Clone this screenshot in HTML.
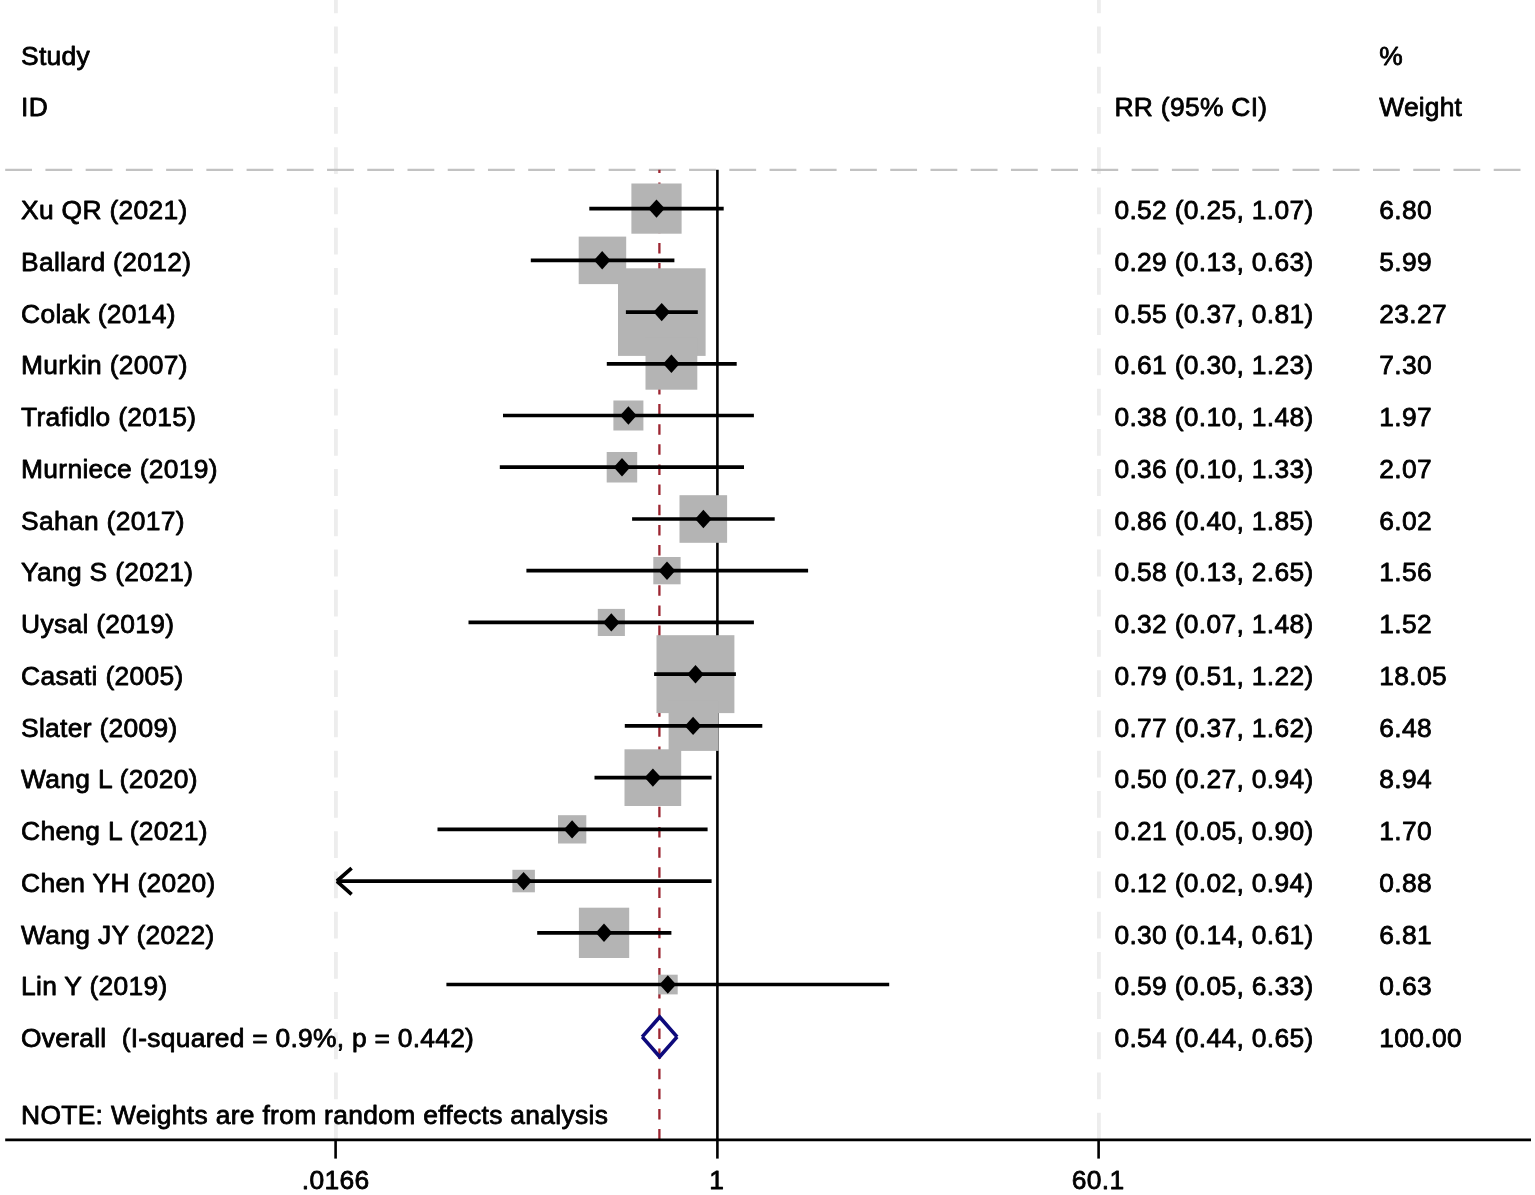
<!DOCTYPE html>
<html lang="en"><head><meta charset="utf-8"><title>Forest plot</title>
<style>html,body{margin:0;padding:0;background:#fff}body{width:1535px;height:1195px;overflow:hidden}svg{display:block}text{font-family:"Liberation Sans",Arial,Helvetica,sans-serif;font-size:26.4px;fill:#000;stroke:#000;stroke-width:0.8px;letter-spacing:0.32px;stroke-linejoin:round}</style></head><body>
<svg width="1535" height="1195" viewBox="0 0 1535 1195">
<rect width="1535" height="1195" fill="#fff"/>
<line x1="335.9" y1="1139.6" x2="335.9" y2="-40" stroke="#ededed" stroke-width="3.8" stroke-dasharray="26.8 13.43"/>
<line x1="1098.9" y1="1139.6" x2="1098.9" y2="-40" stroke="#ededed" stroke-width="3.8" stroke-dasharray="26.8 13.43"/>
<line x1="5.2" y1="169.9" x2="1531" y2="169.9" stroke="#c2c2c2" stroke-width="2.3" stroke-dasharray="26.8 13.43"/>
<line x1="659.4" y1="1139.6" x2="659.4" y2="169.7" stroke="#9c2530" stroke-width="2.3" stroke-dasharray="10.5 9.64"/>
<line x1="717.4" y1="169.7" x2="717.4" y2="1139.6" stroke="#000" stroke-width="2.6"/>
<rect x="631.4" y="183.5" width="50.2" height="50.2" fill="#b4b4b4"/>
<rect x="578.7" y="236.6" width="47.5" height="47.5" fill="#b4b4b4"/>
<rect x="618.0" y="268.3" width="87.6" height="87.6" fill="#b4b4b4"/>
<rect x="645.5" y="337.9" width="51.8" height="51.8" fill="#b4b4b4"/>
<rect x="613.4" y="400.5" width="30.0" height="30.0" fill="#b4b4b4"/>
<rect x="606.7" y="452.0" width="30.5" height="30.5" fill="#b4b4b4"/>
<rect x="679.5" y="495.2" width="47.6" height="47.6" fill="#b4b4b4"/>
<rect x="653.3" y="557.0" width="27.3" height="27.3" fill="#b4b4b4"/>
<rect x="597.8" y="608.9" width="27.1" height="27.1" fill="#b4b4b4"/>
<rect x="656.5" y="635.2" width="77.9" height="77.9" fill="#b4b4b4"/>
<rect x="668.6" y="700.9" width="50.0" height="50.0" fill="#b4b4b4"/>
<rect x="624.5" y="749.3" width="56.7" height="56.7" fill="#b4b4b4"/>
<rect x="558.0" y="815.2" width="28.3" height="28.3" fill="#b4b4b4"/>
<rect x="512.4" y="869.8" width="22.5" height="22.5" fill="#b4b4b4"/>
<rect x="578.9" y="907.7" width="50.3" height="50.3" fill="#b4b4b4"/>
<rect x="658.0" y="974.7" width="19.7" height="19.7" fill="#b4b4b4"/>
<line x1="589.3" y1="208.6" x2="723.7" y2="208.6" stroke="#000" stroke-width="3.7"/>
<line x1="530.8" y1="260.3" x2="674.4" y2="260.3" stroke="#000" stroke-width="3.7"/>
<line x1="625.9" y1="312.1" x2="697.8" y2="312.1" stroke="#000" stroke-width="3.7"/>
<line x1="606.8" y1="363.8" x2="736.7" y2="363.8" stroke="#000" stroke-width="3.7"/>
<line x1="503.0" y1="415.5" x2="753.9" y2="415.5" stroke="#000" stroke-width="3.7"/>
<line x1="499.8" y1="467.2" x2="744.0" y2="467.2" stroke="#000" stroke-width="3.7"/>
<line x1="632.1" y1="519.0" x2="774.7" y2="519.0" stroke="#000" stroke-width="3.7"/>
<line x1="526.4" y1="570.7" x2="808.1" y2="570.7" stroke="#000" stroke-width="3.7"/>
<line x1="468.5" y1="622.4" x2="753.9" y2="622.4" stroke="#000" stroke-width="3.7"/>
<line x1="654.1" y1="674.2" x2="735.9" y2="674.2" stroke="#000" stroke-width="3.7"/>
<line x1="624.8" y1="725.9" x2="762.3" y2="725.9" stroke="#000" stroke-width="3.7"/>
<line x1="594.5" y1="777.6" x2="711.6" y2="777.6" stroke="#000" stroke-width="3.7"/>
<line x1="437.5" y1="829.4" x2="707.6" y2="829.4" stroke="#000" stroke-width="3.7"/>
<path d="M351.6 868.2 L337 881 M337 881.4 L351.6 894.3" fill="none" stroke="#000" stroke-width="3.7"/>
<line x1="336.5" y1="881.1" x2="711.6" y2="881.1" stroke="#000" stroke-width="3.7"/>
<line x1="537.2" y1="932.8" x2="671.4" y2="932.8" stroke="#000" stroke-width="3.7"/>
<line x1="446.4" y1="984.5" x2="889.2" y2="984.5" stroke="#000" stroke-width="3.7"/>
<path d="M648.2 208.6 l8.3 -9.2 l8.3 9.2 l-8.3 9.2z" fill="#000"/>
<path d="M593.9 260.3 l8.3 -9.2 l8.3 9.2 l-8.3 9.2z" fill="#000"/>
<path d="M653.4 312.1 l8.3 -9.2 l8.3 9.2 l-8.3 9.2z" fill="#000"/>
<path d="M663.1 363.8 l8.3 -9.2 l8.3 9.2 l-8.3 9.2z" fill="#000"/>
<path d="M620.1 415.5 l8.3 -9.2 l8.3 9.2 l-8.3 9.2z" fill="#000"/>
<path d="M613.7 467.2 l8.3 -9.2 l8.3 9.2 l-8.3 9.2z" fill="#000"/>
<path d="M695.1 519.0 l8.3 -9.2 l8.3 9.2 l-8.3 9.2z" fill="#000"/>
<path d="M658.7 570.7 l8.3 -9.2 l8.3 9.2 l-8.3 9.2z" fill="#000"/>
<path d="M603.0 622.4 l8.3 -9.2 l8.3 9.2 l-8.3 9.2z" fill="#000"/>
<path d="M687.2 674.2 l8.3 -9.2 l8.3 9.2 l-8.3 9.2z" fill="#000"/>
<path d="M684.8 725.9 l8.3 -9.2 l8.3 9.2 l-8.3 9.2z" fill="#000"/>
<path d="M644.6 777.6 l8.3 -9.2 l8.3 9.2 l-8.3 9.2z" fill="#000"/>
<path d="M563.8 829.4 l8.3 -9.2 l8.3 9.2 l-8.3 9.2z" fill="#000"/>
<path d="M515.3 881.1 l8.3 -9.2 l8.3 9.2 l-8.3 9.2z" fill="#000"/>
<path d="M595.7 932.8 l8.3 -9.2 l8.3 9.2 l-8.3 9.2z" fill="#000"/>
<path d="M659.5 984.5 l8.3 -9.2 l8.3 9.2 l-8.3 9.2z" fill="#000"/>
<path d="M642.2 1036.9 L659.65 1017 L677.1 1036.9 M642.2 1036.9 L659.65 1056.7 L677.1 1036.9" fill="none" stroke="#0e0a7c" stroke-width="3.7" stroke-linejoin="miter" stroke-linecap="butt"/>
<line x1="5.2" y1="1139.9" x2="1531" y2="1139.9" stroke="#000" stroke-width="2.6"/>
<line x1="335.6" y1="1139.9" x2="335.6" y2="1158.6" stroke="#000" stroke-width="2.6"/>
<line x1="717.4" y1="1139.9" x2="717.4" y2="1158.6" stroke="#000" stroke-width="2.6"/>
<line x1="1098.6" y1="1139.9" x2="1098.6" y2="1158.6" stroke="#000" stroke-width="2.6"/>
<text x="335.6" y="1189" text-anchor="middle">.0166</text>
<text x="716.8" y="1189" text-anchor="middle">1</text>
<text x="1098.1" y="1189" text-anchor="middle">60.1</text>
<text x="21" y="65">Study</text>
<text x="21" y="116">ID</text>
<text x="1379.3" y="65">%</text>
<text x="1114.4" y="116">RR (95% CI)</text>
<text x="1379.3" y="116" textLength="82.9">Weight</text>
<text x="21" y="219.0">Xu QR (2021)</text>
<text x="1114.4" y="219.0">0.52 (0.25, 1.07)</text>
<text x="1379.3" y="219.0">6.80</text>
<text x="21" y="271.0">Ballard (2012)</text>
<text x="1114.4" y="271.0">0.29 (0.13, 0.63)</text>
<text x="1379.3" y="271.0">5.99</text>
<text x="21" y="323.0">Colak (2014)</text>
<text x="1114.4" y="323.0">0.55 (0.37, 0.81)</text>
<text x="1379.3" y="323.0">23.27</text>
<text x="21" y="374.0">Murkin (2007)</text>
<text x="1114.4" y="374.0">0.61 (0.30, 1.23)</text>
<text x="1379.3" y="374.0">7.30</text>
<text x="21" y="426.0">Trafidlo (2015)</text>
<text x="1114.4" y="426.0">0.38 (0.10, 1.48)</text>
<text x="1379.3" y="426.0">1.97</text>
<text x="21" y="478.0">Murniece (2019)</text>
<text x="1114.4" y="478.0">0.36 (0.10, 1.33)</text>
<text x="1379.3" y="478.0">2.07</text>
<text x="21" y="530.0">Sahan (2017)</text>
<text x="1114.4" y="530.0">0.86 (0.40, 1.85)</text>
<text x="1379.3" y="530.0">6.02</text>
<text x="21" y="581.0">Yang S (2021)</text>
<text x="1114.4" y="581.0">0.58 (0.13, 2.65)</text>
<text x="1379.3" y="581.0">1.56</text>
<text x="21" y="633.0">Uysal (2019)</text>
<text x="1114.4" y="633.0">0.32 (0.07, 1.48)</text>
<text x="1379.3" y="633.0">1.52</text>
<text x="21" y="685.0">Casati (2005)</text>
<text x="1114.4" y="685.0">0.79 (0.51, 1.22)</text>
<text x="1379.3" y="685.0">18.05</text>
<text x="21" y="737.0">Slater (2009)</text>
<text x="1114.4" y="737.0">0.77 (0.37, 1.62)</text>
<text x="1379.3" y="737.0">6.48</text>
<text x="21" y="788.0">Wang L (2020)</text>
<text x="1114.4" y="788.0">0.50 (0.27, 0.94)</text>
<text x="1379.3" y="788.0">8.94</text>
<text x="21" y="840.0">Cheng L (2021)</text>
<text x="1114.4" y="840.0">0.21 (0.05, 0.90)</text>
<text x="1379.3" y="840.0">1.70</text>
<text x="21" y="892.0">Chen YH (2020)</text>
<text x="1114.4" y="892.0">0.12 (0.02, 0.94)</text>
<text x="1379.3" y="892.0">0.88</text>
<text x="21" y="944.0">Wang JY (2022)</text>
<text x="1114.4" y="944.0">0.30 (0.14, 0.61)</text>
<text x="1379.3" y="944.0">6.81</text>
<text x="21" y="995.0">Lin Y (2019)</text>
<text x="1114.4" y="995.0">0.59 (0.05, 6.33)</text>
<text x="1379.3" y="995.0">0.63</text>
<text x="21" y="1047.0" xml:space="preserve" style="white-space:pre" textLength="453.2">Overall  (I-squared = 0.9%, p = 0.442)</text>
<text x="1114.4" y="1047.0">0.54 (0.44, 0.65)</text>
<text x="1379.3" y="1047.0">100.00</text>
<text x="21" y="1124" textLength="587.2">NOTE: Weights are from random effects analysis</text>
</svg></body></html>
